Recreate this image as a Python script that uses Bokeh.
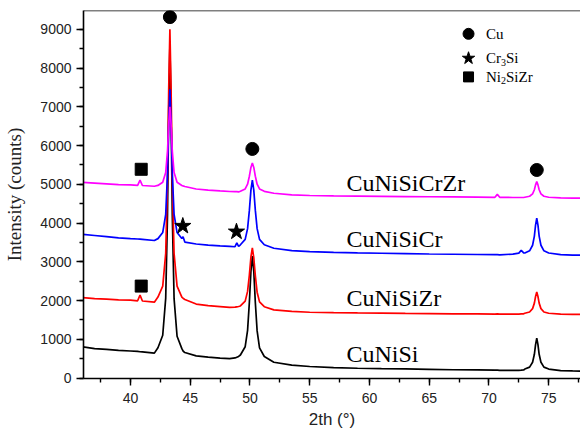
from bokeh.plotting import figure
from bokeh.models import Range1d, SingleIntervalTicker, Span
from bokeh.core.properties import value
from bokeh.embed import file_html
from bokeh.resources import INLINE

# ---------------- data ----------------
two_theta = [36.0, 37.0, 38.0, 39.0, 40.0, 40.6, 40.8, 41.0, 42.0,
             42.3, 42.7, 42.95, 43.1, 43.2, 43.3, 43.4, 43.5, 43.65, 43.9, 44.3,
             44.4, 44.55, 45.5, 46.5, 47.5, 48.3, 48.75, 48.9, 49.05,
             49.2, 49.6, 49.8, 49.95, 50.08, 50.2, 50.32, 50.45, 50.6, 50.8, 51.2,
             52.0, 53.5, 55.0, 57.0, 59.0, 61.0, 63.0, 65.0, 67.0, 69.0,
             70.5, 70.7, 70.9, 72.0, 72.5, 72.7, 72.9,
             73.0, 73.4, 73.65, 73.8, 73.9, 74.0, 74.1, 74.2, 74.35, 74.6, 75.0,
             76.0, 77.0, 78.0]

cunisi = [810, 760, 740, 715, 700, 690, 680, 675, 645,
          785, 1105, 2065, 4225, 6865, 8600, 6860, 4215, 2050, 1080, 760,
          700, 660, 575, 540, 515, 505, 520, 540, 560,
          597, 810, 1233, 1954, 2750, 3150, 2750, 1944, 1218, 780, 557,
          410, 335, 300, 272, 255, 245, 236, 226, 216, 210,
          205, 208, 202, 200, 202, 205, 210,
          233, 283, 408, 615, 864, 1030, 864, 615, 408, 283, 233,
          195, 185, 180]

cunisizr = [2080, 2050, 2040, 2020, 2010, 1995, 2140, 1990, 1960,
            2091, 2373, 3219, 5123, 7449, 9000, 7449, 5123, 3219, 2373, 2091,
            2060, 2030, 1910, 1870, 1845, 1825, 1830, 1840, 1848,
            1862, 1987, 2237, 2658, 3126, 3360, 3106, 2638, 2217, 1967, 1842,
            1760, 1720, 1700, 1690, 1682, 1676, 1670, 1665, 1660, 1655,
            1650, 1655, 1650, 1650, 1650, 1655, 1658,
            1673, 1707, 1793, 1935, 2106, 2220, 2106, 1935, 1793, 1707, 1673,
            1650, 1645, 1645]

cunisicr = [3710, 3680, 3650, 3620, 3600, 3590, 3585, 3580, 3550,
            3599, 3756, 4227, 5289, 6585, 7450, 6585, 5289, 4227, 3756, 3600,
            3650, 3510, 3460, 3430, 3410, 3400, 3390, 3490, 3400,
            3440, 3579, 3857, 4327, 4849, 5110, 4849, 4327, 3857, 3579, 3440,
            3350, 3290, 3262, 3245, 3232, 3222, 3212, 3202, 3196, 3190,
            3186, 3185, 3182, 3200, 3225, 3300, 3232,
            3228, 3285, 3428, 3665, 3950, 4130, 3950, 3665, 3428, 3285, 3228,
            3185, 3175, 3170]

cunisicrzr = [5050, 5030, 5010, 4990, 4985, 4975, 5110, 4970, 4950,
              4971, 5054, 5303, 5862, 6545, 7000, 6545, 5862, 5303, 5054, 4971,
              4960, 4945, 4880, 4850, 4830, 4815, 4810, 4810, 4805,
              4820, 4881, 5003, 5208, 5436, 5550, 5436, 5208, 5003, 4881, 4820,
              4770, 4730, 4712, 4702, 4695, 4690, 4685, 4680, 4675, 4670,
              4665, 4740, 4665, 4660, 4660, 4660, 4660,
              4667, 4692, 4755, 4860, 4986, 5070, 4986, 4860, 4755, 4692, 4667,
              4650, 4645, 4640]

sample_names = ["CuNiSi", "CuNiSiZr", "CuNiSiCr", "CuNiSiCrZr"]
sample_label_y = [618, 2056, 3580, 5035]

# phase markers (peak identifications)
cu_x = [43.3, 50.2, 74.0]
cu_y = [9315, 5913, 5370]
cr3si_x = [44.38, 48.87]
cr3si_y = [3924, 3777]
ni2sizr_x = [40.9, 40.9]
ni2sizr_y = [5388, 2374]

x_ticks_interval = 5
y_ticks_interval = 1000

# ---------------- figure ----------------
SERIF = "Liberation Serif"
SANS = "Liberation Sans"

p = figure(width=580, height=440, output_backend="svg", toolbar_location=None,
           x_range=Range1d(36.07, 77.66), y_range=Range1d(-10, 9485),
           min_border_left=83, min_border_right=0, min_border_top=10,
           min_border_bottom=62)
p.outline_line_color = None
p.xgrid.visible = False
p.ygrid.visible = False
p.background_fill_color = "white"
p.border_fill_color = "white"

p.add_layout(Span(location=9485, dimension="width", line_color="black",
                  line_width=1.6))

colors = ["#000000", "#ff0000", "#0000ff", "#ff00ff"]
series = [cunisi, cunisizr, cunisicr, cunisicrzr]
for ys, c in zip(series, colors):
    p.line(two_theta, ys, line_color=c, line_width=1.7)

# phase markers
p.scatter(cu_x, cu_y, marker="circle", size=13, color="black")
p.scatter(cr3si_x, cr3si_y, marker="star", size=17, color="black")
p.scatter(ni2sizr_x, ni2sizr_y, marker="square", size=12, color="black")

# sample labels
label_x = [58.08] * 4
p.text(label_x, sample_label_y, text=sample_names,
       text_font=value(SERIF), text_font_size="24px",
       text_baseline="alphabetic", text_align="left", text_color="black")

# legend (drawn manually)
lx_marker = 68.29
lx_text = 69.75
ly = [8883, 8253, 7772]
p.scatter([lx_marker], [ly[0]], marker="circle", size=11, color="black")
p.scatter([lx_marker], [ly[1]], marker="star", size=13, color="black")
p.scatter([lx_marker], [ly[2]], marker="square", size=10, color="black")

lfs = "15px"
sfs = "10px"
common = dict(text_font=value(SERIF), text_baseline="middle",
              text_align="left", text_color="black")
p.text([lx_text], [ly[0]], text=["Cu"], text_font_size=lfs, **common)
p.text([lx_text], [ly[1]], text=["Cr"], text_font_size=lfs, **common)
p.text([lx_text], [ly[1]], text=["3"], text_font_size=sfs, x_offset=15,
       y_offset=4, **common)
p.text([lx_text], [ly[1]], text=["Si"], text_font_size=lfs, x_offset=20, **common)
p.text([lx_text], [ly[2]], text=["Ni"], text_font_size=lfs, **common)
p.text([lx_text], [ly[2]], text=["2"], text_font_size=sfs, x_offset=15,
       y_offset=4, **common)
p.text([lx_text], [ly[2]], text=["SiZr"], text_font_size=lfs, x_offset=20, **common)

# axes
p.xaxis.ticker = SingleIntervalTicker(interval=x_ticks_interval, num_minor_ticks=2)
p.yaxis.ticker = SingleIntervalTicker(interval=y_ticks_interval, num_minor_ticks=2)
for ax in (p.xaxis[0], p.yaxis[0]):
    ax.axis_line_color = "black"
    ax.axis_line_width = 1.6
    ax.major_tick_line_color = "black"
    ax.major_tick_line_width = 1.4
    ax.minor_tick_line_color = "black"
    ax.minor_tick_line_width = 1.4
    ax.major_tick_in = 0
    ax.major_tick_out = 7
    ax.minor_tick_in = 0
    ax.minor_tick_out = 4
    ax.major_label_text_font = SANS
    ax.major_label_text_font_size = "14px"
    ax.major_label_text_color = "#222222"

p.xaxis.axis_label = "2th (°)"
p.xaxis.axis_label_text_font = SANS
p.xaxis.axis_label_text_font_size = "17px"
p.xaxis.axis_label_text_font_style = "normal"
p.xaxis.axis_label_text_color = "#222222"
p.xaxis.major_label_standoff = 7
p.xaxis.axis_label_standoff = 4

p.yaxis.axis_label = "Intensity (counts)"
p.yaxis.axis_label_text_font = SERIF
p.yaxis.axis_label_text_font_size = "19px"
p.yaxis.axis_label_text_font_style = "normal"
p.yaxis.axis_label_text_color = "#222222"
p.yaxis.major_label_standoff = 5
p.yaxis.axis_label_standoff = 12

open("out.html", "w").write(file_html(p, INLINE))
